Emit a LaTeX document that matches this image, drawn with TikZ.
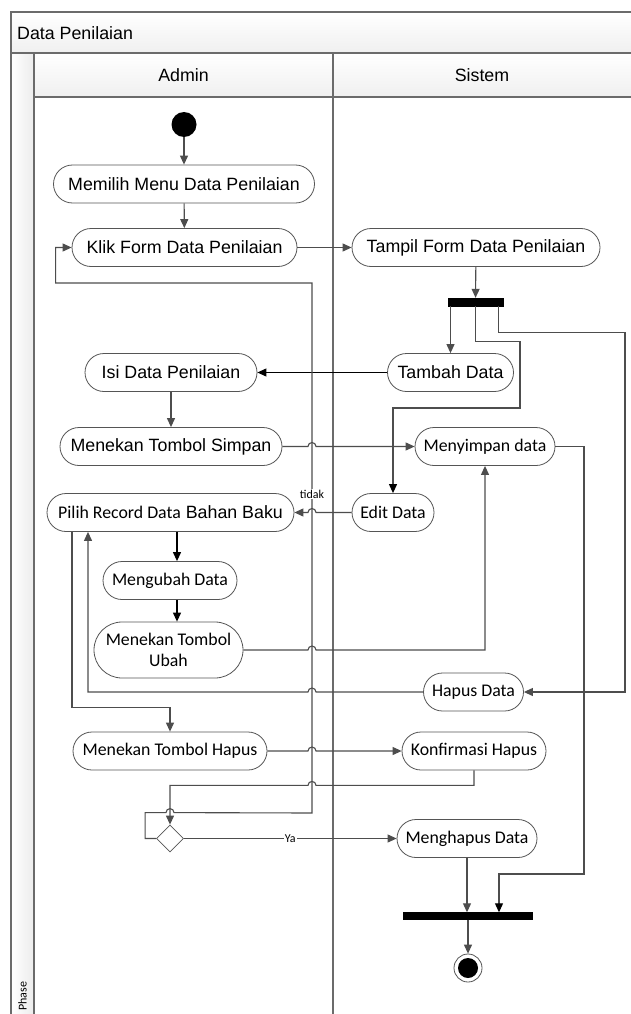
\documentclass[tikz,border=0pt]{standalone}
\usepackage{fontspec}
\setmainfont{Liberation Sans}
\newfontfamily\calib{Carlito}
\usetikzlibrary{arrows.meta,calc,shapes.geometric}
\definecolor{lg}{HTML}{4D4D4D}
\definecolor{bd}{HTML}{555555}
\definecolor{fr}{HTML}{6B6B6B}
\begin{document}
\begin{tikzpicture}[x=1pt,y=-1pt,
  act/.style={draw=bd, line width=0.8pt, rounded corners=19pt, minimum height=38pt, inner sep=0pt,
    font=\fontsize{17.8}{21}\selectfont, text=black},
  cb/.style={font=\calib\fontsize{17.8}{21}\selectfont},
  flow/.style={draw=lg, line width=1.1pt, -{Triangle[length=9pt,width=8pt]}},
  flowk/.style={draw=black, line width=1.1pt, -{Triangle[length=9pt,width=8pt]}},
  flowb/.style={draw=lg, line width=1.1pt, -{Triangle[length=9pt,width=8pt,color=black]}},
  barnode/.style={fill=black, draw=black, inner sep=0pt, minimum height=8pt},
  startnode/.style={circle, fill=black, minimum size=25pt, inner sep=0pt},
  decnode/.style={diamond, draw=bd, line width=0.8pt, minimum width=27pt, minimum height=27pt, inner sep=0pt, fill=white},
  lbl/.style={font=\calib\fontsize{12}{12}\selectfont, fill=white, inner sep=1pt},
  frame/.style={draw=fr, line width=1.1pt},
  hdr/.style={font=\fontsize{17.8}{21}\selectfont}]
\useasboundingbox (0,0) rectangle (630,1014);
\fill[white] (0,0) rectangle (630,1014);
% pool
\shade[top color=white, bottom color=gray!12] (11,12) rectangle (640,53);
\shade[top color=white, bottom color=gray!12] (34,53) rectangle (640,97);
\shade[left color=white, right color=gray!15] (11,53) rectangle (34,1025);
\draw[frame] (11,12) rectangle (640,1025);
\draw[frame] (11,53) -- (640,53);
\draw[frame] (34,53) -- (34,1025);
\draw[frame] (34,97) -- (640,97);
\draw[frame] (333,53) -- (333,1025);
\node[hdr, anchor=west, inner sep=0pt] (title) at (17,33) {Data Penilaian};
\node[hdr] (admin) at (183.5,75) {Admin};
\node[hdr] (sistem) at (482,75) {Sistem};
\node[rotate=90, anchor=west, inner sep=0pt, font=\calib\fontsize{12}{12}\selectfont] (phase) at (22.5,1011) {Phase};

\coordinate (vx) at (312,0);
\coordinate (vb) at (312,813);
\coordinate (vt) at (312,283);

% nodes
\node[startnode] (start) at (184,124.5) {};
\node[act, minimum width=261pt] (memilih) at (184,184) {Memilih Menu Data Penilaian};
\node[act, minimum width=225pt] (klik) at (184.5,247.5) {Klik Form Data Penilaian};
\node[act, minimum width=248pt] (tampil) at (476,247.5) {Tampil Form Data Penilaian};
\node[barnode, minimum width=55pt] (fork) at (475.5,302) {};
\node[act, minimum width=126pt] (tambah) at (450.5,372.5) {Tambah Data};
\node[act, minimum width=172pt] (isi) at (171,372.5) {Isi Data Penilaian};
\node[act, minimum width=222pt] (simpan) at (171,446.5) {Menekan Tombol Simpan};
\node[act, cb, minimum width=140pt] (menyimpan) at (485,446.5) {Menyimpan data};
\node[act, cb, minimum width=82pt] (edit) at (393,512.5) {Edit Data};
\node[act, minimum width=247pt] (pilih) at (170.5,512.5) {{\calib Pilih Record Data} Bahan Baku};
\node[act, cb, minimum width=134pt] (ubahdata) at (170,580.5) {Mengubah Data};
\node[act, cb, minimum width=149pt, minimum height=56pt, rounded corners=28pt, align=center] (ubah) at (168.5,650) {Menekan Tombol\\Ubah};
\node[act, cb, minimum width=100pt] (hapusdata) at (473.5,692) {Hapus Data};
\node[act, cb, minimum width=194pt] (mhapus) at (170,751) {Menekan Tombol Hapus};
\node[act, cb, minimum width=144pt] (konf) at (474,751) {Konfirmasi Hapus};
\node[decnode] (dec) at (170,838.5) {};
\node[act, cb, minimum width=140pt] (mghapus) at (467,838.5) {Menghapus Data};
\node[barnode, minimum width=129pt, minimum height=7pt] (join) at (467.5,916) {};
\node[circle, draw=bd, line width=0.8pt, minimum size=28pt, inner sep=0pt] (end) at (468,968) {};
\fill[black] (end.center) circle[radius=10pt];

% connectors
\draw[flow] (start) -- (memilih);
\draw[flow] (memilih) -- (klik);
\draw[flow] (klik) -- (tampil);
\draw[flow] (tampil) -- (fork);
\draw[flow] (tambah.north |- fork.south) -- (tambah.north);
\draw[flowb] (fork.south) -- ++(0,35) -| (520,408) -| (edit.north);
\draw[flow] ($(fork.south east)+(-5,0)$) -- ++(0,26) -| (625,692) -- (hapusdata.east);
\draw[flowk] (tambah) -- (isi);
\draw[flow] (isi) -- (simpan);
\draw[flow] (simpan.east) -- ($(vx|-simpan.east)+(-4,0)$) arc[start angle=180,end angle=0,radius=4pt] -- (menyimpan.west);
\draw[flowb] (menyimpan.east) -| (584,874) -| ($(join.north)+(31.5,0)$);
\draw[flow] (edit.west) -- ($(vx|-edit.west)+(4,0)$) arc[start angle=0,end angle=180,radius=4pt] -- (pilih.east);
\draw[flowk] ($(pilih.south)+(6.5,0)$) -- ($(ubahdata.north)+(7,0)$);
\draw[flowk] ($(ubahdata.south)+(7,0)$) -- ($(ubah.north)+(8.5,0)$);
\draw[flow] (ubah.east) -- ($(vx|-ubah.east)+(-4,0)$) arc[start angle=180,end angle=0,radius=4pt] -| (menyimpan.south);
\draw[flow] (hapusdata.west) -- ($(vx|-hapusdata.west)+(4,0)$) arc[start angle=0,end angle=180,radius=4pt] -| ($(pilih.south)+(-82.5,0)$);
\draw[flow] ($(pilih.south)+(-98.5,0)$) |- ($(mhapus.north)+(0,-24)$) -- (mhapus.north);
\draw[flow] (mhapus.east) -- ($(vx|-mhapus.east)+(-4,0)$) arc[start angle=180,end angle=0,radius=4pt] -- (konf.west);
\draw[flow] (konf.south) |- ($(vx|-konf.south)+(4,15)$) arc[start angle=0,end angle=180,radius=4pt] -| (dec.north);
\draw[flow] (dec.west) -- ++(-11,0) |- ($(dec.north)+(-4,-12)$) arc[start angle=180,end angle=0,radius=4pt] -- (vb) -- node[lbl, pos=0.602] {tidak} (vt) -| ($(klik.west)+(-16,0)$) -- (klik.west);
\draw[flow] (dec.east) -- node[lbl, pos=0.5] {Ya} (mghapus.west);
\draw[flow] (mghapus.south) -- (mghapus.south |- join.north);
\draw[flow] (join.south -| end.north) -- (end.north);
\end{tikzpicture}
\end{document}
